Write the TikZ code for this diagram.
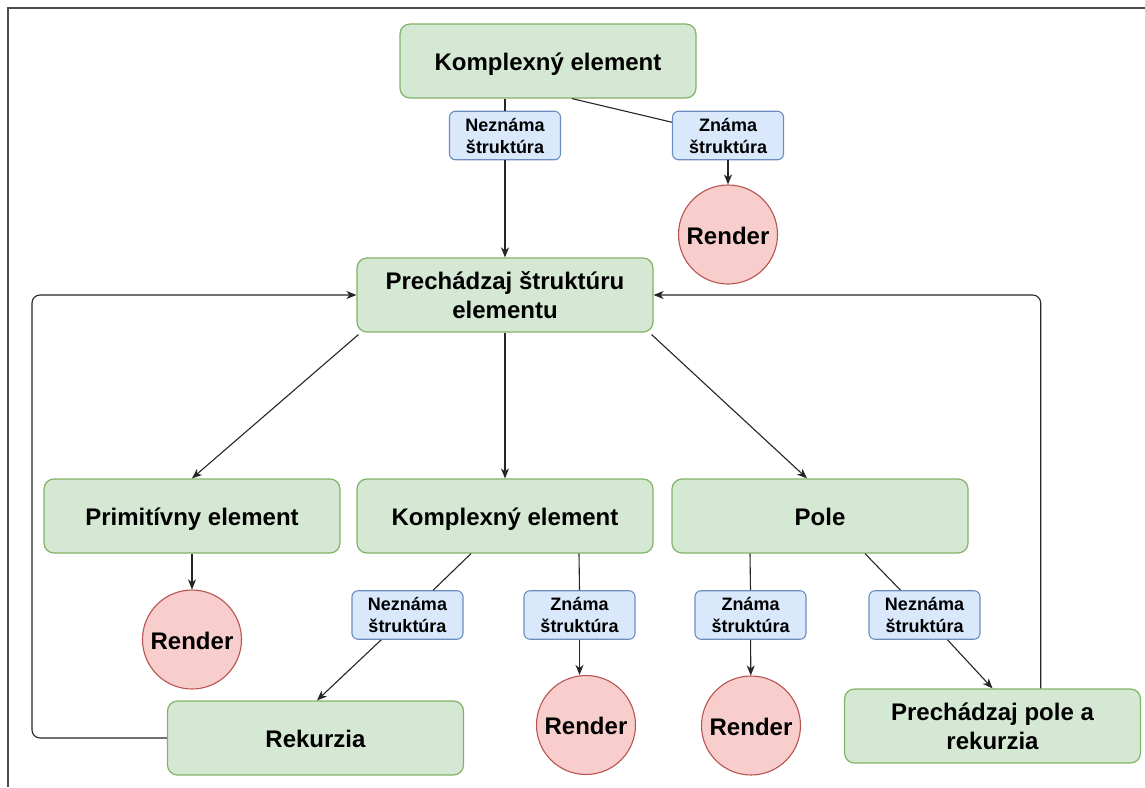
\documentclass[tikz,border=0pt]{standalone}
\usepackage{fontspec}
\setmainfont{Liberation Sans}
\usetikzlibrary{arrows.meta,calc}
\definecolor{gfill}{HTML}{D5E8D4}
\definecolor{gline}{HTML}{82B366}
\definecolor{bfill}{HTML}{DAE8FC}
\definecolor{bline}{HTML}{6C8EBF}
\definecolor{rfill}{HTML}{F8CECC}
\definecolor{rline}{HTML}{B85450}
\begin{document}
\begin{tikzpicture}[x=1pt,y=-1pt,
  gbox/.style={draw=gline,fill=gfill,line width=1.2pt,rounded corners=10pt,minimum width=296pt,minimum height=74pt,inner sep=0pt,align=center,font=\fontsize{24}{29}\selectfont\bfseries},
  oneline/.style={text height=24pt,text depth=5pt},
  lbl/.style={draw=bline,fill=bfill,line width=1.1pt,rounded corners=6pt,minimum width=111pt,minimum height=48.5pt,inner sep=0pt,align=center,font=\fontsize{18}{22}\selectfont\bfseries},
  rnd/.style={circle,draw=rline,fill=rfill,line width=1.1pt,minimum size=99pt,inner sep=0pt,font=\fontsize{24}{29}\selectfont\bfseries,oneline},
  conn/.style={line width=1.1pt,draw=black!85},
  arr/.style={conn,-{Stealth[length=10pt,width=8pt,inset=3pt]}}]
\useasboundingbox (0,0) rectangle (1145,787);
\fill[white] (0,0) rectangle (1145,787);
\draw[gray!60!black,line width=1.5pt] (8,787) -- (8,8) -- (1145,8);

% nodes
\node[gbox,oneline] (top) at (548,61) {Komplexný element};
\node[lbl] (lblTN) at (505,135.5) {Neznáma\\štruktúra};
\node[lbl] (lblTZ) at (728,135.5) {Známa\\štruktúra};
\node[rnd] (rTop) at (728,234.5) {Render};
\node[gbox] (prech) at (505,295) {Prechádzaj štruktúru\\elementu};
\node[gbox,oneline] (prim) at (192,516) {Primitívny element};
\node[gbox,oneline] (kom) at (505,516) {Komplexný element};
\node[gbox,oneline] (pole) at (820,516) {Pole};
\node[rnd] (rPrim) at (192,639.5) {Render};
\node[lbl] (lblN1) at (407.5,615) {Neznáma\\štruktúra};
\node[lbl] (lblZ1) at (579.5,615) {Známa\\štruktúra};
\node[lbl] (lblZ2) at (750.5,615) {Známa\\štruktúra};
\node[lbl] (lblN2) at (924.5,615) {Neznáma\\štruktúra};
\node[gbox,oneline] (rek) at (315.5,738) {Rekurzia};
\node[rnd] (rKom) at (586,725) {Render};
\node[rnd] (rPole) at (751,725.5) {Render};
\node[gbox] (prPole) at (992.5,726) {Prechádzaj pole a\\rekurzia};
\coordinate (loopL) at (32,0);
\coordinate (loopR) at (1040.7,0);

% connectors
\draw[conn] (top.south -| lblTN) -- (lblTN.north);
\draw[arr] (lblTN.south) -- (prech.north);
\draw[conn] ([xshift=24pt]top.south) -- (lblTZ);
\draw[arr] (lblTZ.south) -- (rTop.north);
\draw[arr] ([xshift=2pt,yshift=-2pt]prech.south west) -- (prim.north);
\draw[arr] (prech.south) -- (kom.north);
\draw[arr] ([xshift=-2pt,yshift=-2pt]prech.south east) -- ([xshift=-13pt]pole.north);
\draw[arr] (prim.south) -- (rPrim.north);
\draw[conn] ([xshift=-34pt]kom.south) -- (lblN1);
\draw[arr] (lblN1) -- ([xshift=1.5pt]rek.north);
\draw[conn] ([xshift=74pt]kom.south) -- (lblZ1.north);
\draw[arr] (lblZ1.south) -- (lblZ1.south |- rKom.north);
\draw[conn] ([xshift=-70pt]pole.south) -- (lblZ2.north);
\draw[arr] (lblZ2) -- (rPole);
\draw[conn] ([xshift=45pt]pole.south) -- (lblN2);
\draw[arr] (lblN2) -- (prPole.north);
\draw[arr,rounded corners=8pt] (rek.west) -- (rek.west -| loopL) |- (prech.west);
\draw[arr,rounded corners=8pt] (prPole.north -| loopR) |- (prech.east);
\end{tikzpicture}
\end{document}
